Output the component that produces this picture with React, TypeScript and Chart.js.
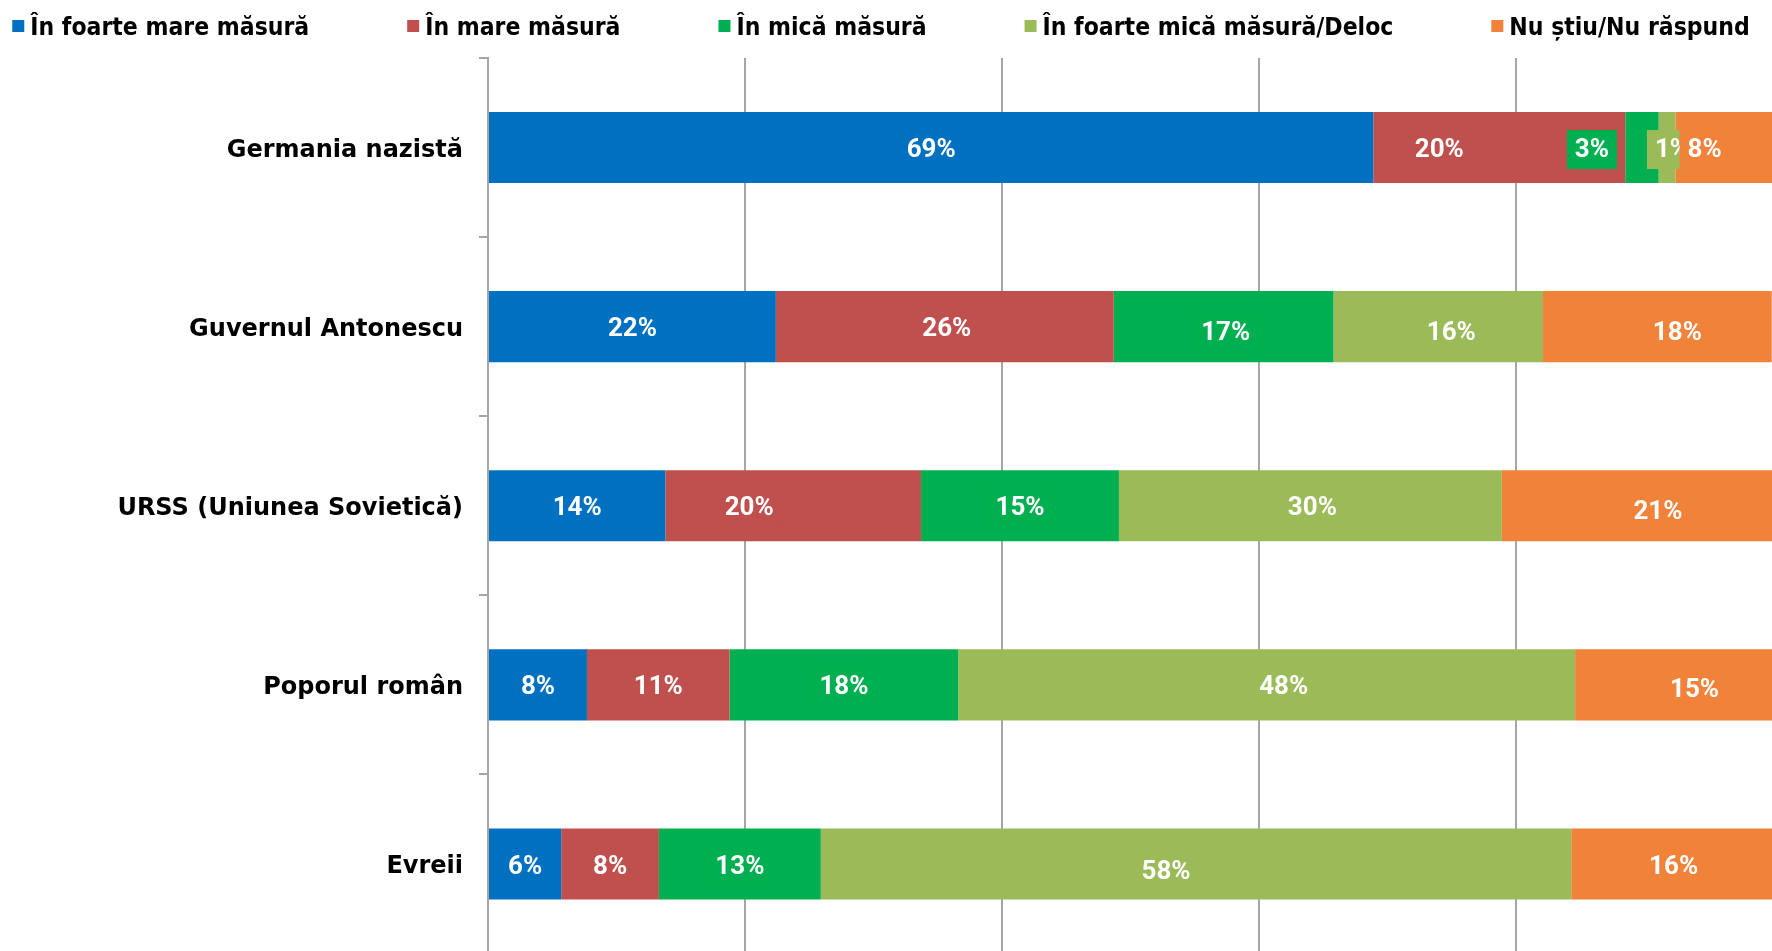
import React, { useEffect, useRef } from "react";
import { Chart, registerables } from "chart.js";

Chart.register(...registerables);

const categories = [
  "Germania nazistă",
  "Guvernul Antonescu",
  "URSS (Uniunea Sovietică)",
  "Poporul român",
  "Evreii",
];

const seriesNames = [
  "În foarte mare măsură",
  "În mare măsură",
  "În mică măsură",
  "În foarte mică măsură/Deloc",
  "Nu știu/Nu răspund",
];

const veryMuch = [68.9, 22.4, 13.8, 7.7, 5.7];
const much = [19.6, 26.3, 19.9, 11.1, 7.6];
const little = [2.6, 17.1, 15.4, 17.8, 12.6];
const veryLittle = [1.3, 16.3, 29.8, 48.0, 58.4];
const dontKnow = [7.6, 17.8, 21.1, 15.4, 15.7];

const xTicks = [0, 20, 40, 60, 80, 100];

const colors = ["#0070C0", "#C0504D", "#00B050", "#9BBB59", "#F0823A"];

// manual label nudges (px) as placed in the original chart: [dataset][category]
const labelNudgeX = [
  [0, 0, 0, 0, 0],
  [-60, 2, -44, 0, 0],
  [-50, 2, 0, 0, 0],
  [5, 13, 2, 17, -30],
  [-19, 20, 21, 21, 2],
];
const labelNudgeY = [
  [0, 0, 0, 0, 0],
  [0, 0, 0, 0, 0],
  [0, 4, 0, 0, 0],
  [0, 4, 0, 0, 5],
  [0, 4, 4, 3, 0],
];

const W = 1776;
const H = 984;
const VISIBLE_W = 1772;

const legendPlugin = {
  id: "customLegend",
  afterDraw(chart: any) {
    const ctx = chart.ctx;
    ctx.save();
    ctx.font = "bold 24.5px 'DejaVu Sans Condensed', 'DejaVu Sans'";
    const box = 12;
    const boxGap = 6;
    const itemGap = 98;
    const widths = seriesNames.map((n) => box + boxGap + ctx.measureText(n).width);
    const total = widths.reduce((a, b) => a + b, 0) + itemGap * (seriesNames.length - 1);
    let x = 881 - total / 2;
    const baseline = 35;
    seriesNames.forEach((n, i) => {
      ctx.fillStyle = colors[i];
      ctx.fillRect(x, 20, box, box);
      ctx.fillStyle = "#000";
      ctx.textAlign = "left";
      ctx.textBaseline = "alphabetic";
      ctx.fillText(n, x + box + boxGap, baseline);
      x += widths[i] + itemGap;
    });
    ctx.restore();
  },
};

const categoryLabelPlugin = {
  id: "categoryLabels",
  afterDraw(chart: any) {
    const ctx = chart.ctx;
    const y = chart.scales.y;
    ctx.save();
    ctx.font = "bold 24px 'DejaVu Sans'";
    ctx.fillStyle = "#000";
    ctx.textAlign = "right";
    ctx.textBaseline = "middle";
    categories.forEach((c, i) => {
      ctx.fillText(c, y.right - 25, y.getPixelForValue(i) + 3);
    });
    ctx.restore();
  },
};

const labelPlugin = {
  id: "segLabels",
  afterDatasetsDraw(chart: any) {
    const ctx = chart.ctx;
    ctx.save();
    ctx.font = "bold 26px Roboto";
    ctx.textAlign = "center";
    ctx.textBaseline = "middle";
    chart.data.datasets.forEach((ds: any, di: number) => {
      const meta = chart.getDatasetMeta(di);
      meta.data.forEach((el: any, i: number) => {
        const v = ds.data[i];
        const text = Math.round(v) + "%";
        const left = Math.min(el.base, el.x);
        const right = Math.min(Math.max(el.base, el.x), VISIBLE_W);
        const cx = (left + right) / 2 + labelNudgeX[di][i];
        const cy = el.y + 2 + labelNudgeY[di][i];
        const tw = ctx.measureText(text).width;
        ctx.fillStyle = colors[di];
        ctx.fillRect(cx - tw / 2 - 8, cy - 19.5, tw + 16, 39);
        ctx.fillStyle = "#FFFFFF";
        ctx.fillText(text, cx, cy + 1);
      });
    });
    ctx.restore();
  },
};

export default function App() {
  const ref = useRef<HTMLCanvasElement | null>(null);

  useEffect(() => {
    document.body.style.margin = "0";
    const canvas = ref.current!;
    const series = [veryMuch, much, little, veryLittle, dontKnow];
    const chart = new Chart(canvas, {
      type: "bar",
      data: {
        labels: categories,
        datasets: series.map((d, i) => ({
          label: seriesNames[i],
          data: d,
          backgroundColor: colors[i],
          borderWidth: 0,
          categoryPercentage: 1,
          barPercentage: 0.397,
        })),
      },
      options: {
        indexAxis: "y",
        responsive: false,
        animation: false,
        devicePixelRatio: 1,
        layout: { padding: { top: 58, right: 3, bottom: 3, left: 0 } },
        plugins: {
          legend: { display: false },
          tooltip: { enabled: false },
        },
        scales: {
          x: {
            stacked: true,
            min: xTicks[0],
            max: xTicks[xTicks.length - 1],
            afterBuildTicks: (scale: any) => {
              scale.ticks = xTicks.map((v) => ({ value: v }));
            },
            ticks: { display: false },
            grid: {
              drawTicks: false,
              color: "#A6A6A6",
              lineWidth: 2,
            },
            border: { display: false },
            afterFit: (scale: any) => {
              scale.height = 0;
            },
          },
          y: {
            stacked: true,
            ticks: {
              color: "rgba(0,0,0,0)",
              padding: 16,
              font: { family: "'DejaVu Sans'", size: 24, weight: "bold" },
            },
            grid: {
              offset: true,
              drawOnChartArea: false,
              drawTicks: true,
              tickLength: 9,
              color: "#A6A6A6",
              lineWidth: 2,
            },
            border: { display: true, color: "#A6A6A6", width: 2 },
            afterFit: (scale: any) => {
              scale.width = 488;
            },
          },
        },
      },
      plugins: [labelPlugin, categoryLabelPlugin, legendPlugin],
    });
    return () => chart.destroy();
  }, []);

  return (
    <div style={{ position: "fixed", left: 0, top: 0, width: W, height: H, background: "#fff" }}>
      <canvas ref={ref} width={W} height={H} style={{ display: "block", width: W, height: H }} />
    </div>
  );
}
